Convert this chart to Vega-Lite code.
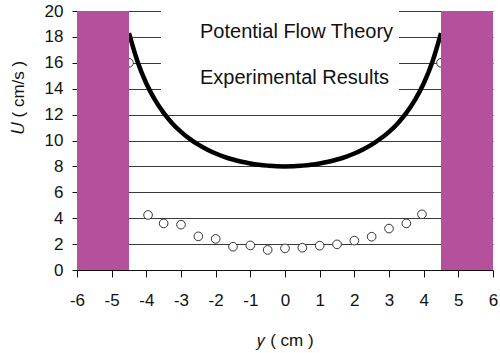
{
  "$schema": "https://vega.github.io/schema/vega-lite/v6.json",
  "autosize": "none",
  "width": 416,
  "height": 259,
  "padding": {"left": 77, "top": 11, "right": 7, "bottom": 83},
  "background": "white",
  "config": {
    "view": {"stroke": null},
    "font": "Liberation Sans",
    "axis": {"labelFont": "Liberation Sans", "titleFont": "Liberation Sans", "labelColor": "#111", "titleColor": "#111", "titleFontWeight": "normal"}
  },
  "datasets": {
    "exp": [
      {"y": -4.5, "U": 16.0, "series": "Experimental Results"},
      {"y": -3.95, "U": 4.25, "series": "Experimental Results"},
      {"y": -3.5, "U": 3.6, "series": "Experimental Results"},
      {"y": -3.0, "U": 3.5, "series": "Experimental Results"},
      {"y": -2.5, "U": 2.6, "series": "Experimental Results"},
      {"y": -2.0, "U": 2.4, "series": "Experimental Results"},
      {"y": -1.5, "U": 1.8, "series": "Experimental Results"},
      {"y": -1.0, "U": 1.9, "series": "Experimental Results"},
      {"y": -0.5, "U": 1.55, "series": "Experimental Results"},
      {"y": 0.0, "U": 1.67, "series": "Experimental Results"},
      {"y": 0.5, "U": 1.72, "series": "Experimental Results"},
      {"y": 1.0, "U": 1.88, "series": "Experimental Results"},
      {"y": 1.5, "U": 1.98, "series": "Experimental Results"},
      {"y": 2.0, "U": 2.27, "series": "Experimental Results"},
      {"y": 2.5, "U": 2.57, "series": "Experimental Results"},
      {"y": 3.0, "U": 3.2, "series": "Experimental Results"},
      {"y": 3.5, "U": 3.6, "series": "Experimental Results"},
      {"y": 3.95, "U": 4.3, "series": "Experimental Results"},
      {"y": 4.5, "U": 16.0, "series": "Experimental Results"}
    ],
    "theory": [
      {"y": -4.5, "U": 18.29}, {"y": -4.25, "U": 16.06}, {"y": -4.0, "U": 14.4}, {"y": -3.75, "U": 13.13},
      {"y": -3.5, "U": 12.13}, {"y": -3.25, "U": 11.32}, {"y": -3.0, "U": 10.67}, {"y": -2.75, "U": 10.13},
      {"y": -2.5, "U": 9.68}, {"y": -2.25, "U": 9.31}, {"y": -2.0, "U": 9.0}, {"y": -1.75, "U": 8.74},
      {"y": -1.5, "U": 8.53}, {"y": -1.25, "U": 8.36}, {"y": -1.0, "U": 8.23}, {"y": -0.75, "U": 8.13},
      {"y": -0.5, "U": 8.06}, {"y": -0.25, "U": 8.01}, {"y": 0.0, "U": 8.0},
      {"y": 0.25, "U": 8.01}, {"y": 0.5, "U": 8.06}, {"y": 0.75, "U": 8.13}, {"y": 1.0, "U": 8.23},
      {"y": 1.25, "U": 8.36}, {"y": 1.5, "U": 8.53}, {"y": 1.75, "U": 8.74}, {"y": 2.0, "U": 9.0},
      {"y": 2.25, "U": 9.31}, {"y": 2.5, "U": 9.68}, {"y": 2.75, "U": 10.13}, {"y": 3.0, "U": 10.67},
      {"y": 3.25, "U": 11.32}, {"y": 3.5, "U": 12.13}, {"y": 3.75, "U": 13.13}, {"y": 4.0, "U": 14.4},
      {"y": 4.25, "U": 16.06}, {"y": 4.5, "U": 18.29}
    ],
    "walls": [
      {"y": -6, "y_end": -4.5, "U": 0, "U_end": 20},
      {"y": 4.5, "y_end": 6, "U": 0, "U_end": 20}
    ]
  },
  "encoding": {
    "x": {
      "field": "y", "type": "quantitative",
      "scale": {"domain": [-6, 6], "nice": false, "zero": false},
      "axis": {
        "values": [-6, -5, -4, -3, -2, -1, 0, 1, 2, 3, 4, 5, 6],
        "labelExpr": "'' + datum.value", "zindex": 1,
        "grid": false, "domainColor": "#111", "tickColor": "#111", "tickSize": 7, "domainWidth": 1,
        "labelFontSize": 17, "labelPadding": 15, "labelFlush": false, "labelOverlap": false,
        "title": "𝑦 ( cm )", "titleFontSize": 17, "titleY": 70, "titleBaseline": "middle"
      }
    },
    "y": {
      "field": "U", "type": "quantitative",
      "scale": {"domain": [0, 20], "nice": false},
      "axis": {
        "values": [0, 2, 4, 6, 8, 10, 12, 14, 16, 18, 20],
        "labelExpr": "'' + datum.value", "labelOverlap": false, "zindex": 0,
        "grid": true, "gridColor": "#3a3a3a", "gridWidth": 1, "gridOpacity": 1,
        "domain": false, "tickColor": "#111", "tickSize": 5,
        "labelFontSize": 17, "labelPadding": 9,
        "title": "𝑈 ( cm/s )", "titleFontSize": 17, "titleAngle": 270,
        "titleX": -59, "titleY": 86, "titleAlign": "center", "titleBaseline": "middle"
      }
    }
  },
  "layer": [
    {
      "data": {"name": "exp"},
      "mark": {"type": "point", "filled": false, "fill": "white", "fillOpacity": 1, "color": "#333", "opacity": 1, "size": 75, "strokeWidth": 1},
      "encoding": {
        "shape": {
          "field": "series", "type": "nominal",
          "scale": {"domain": ["Potential Flow Theory", "Experimental Results"], "range": ["M-1,0H1", "circle"]},
          "legend": {
            "orient": "none", "legendX": 84, "legendY": -1, "title": null, "zindex": 3,
            "fillColor": "white", "padding": 5, "labelFontSize": 20, "labelFont": "Liberation Sans", "labelLimit": 400,
            "labelColor": "#111", "rowPadding": 17, "labelOffset": 0, "symbolSize": 1024,
            "symbolFillColor": "white", "symbolStrokeColor": "#111",
            "encode": {
              "symbols": {
                "update": {
                  "size": {"signal": "datum.value === 'Potential Flow Theory' ? 1024 : 75"},
                  "strokeWidth": {"signal": "datum.value === 'Potential Flow Theory' ? 4.5 : 1"},
                  "stroke": {"value": "#111"},
                  "fill": {"value": "white"}
                }
              }
            }
          }
        }
      }
    },
    {
      "data": {"name": "theory"},
      "mark": {"type": "line", "color": "black", "strokeWidth": 4.5, "interpolate": "monotone"}
    },
    {
      "data": {"name": "walls"},
      "mark": {"type": "rect", "color": "#B5509C", "opacity": 1},
      "encoding": {
        "x2": {"field": "y_end"},
        "y2": {"field": "U_end"}
      }
    }
  ]
}
